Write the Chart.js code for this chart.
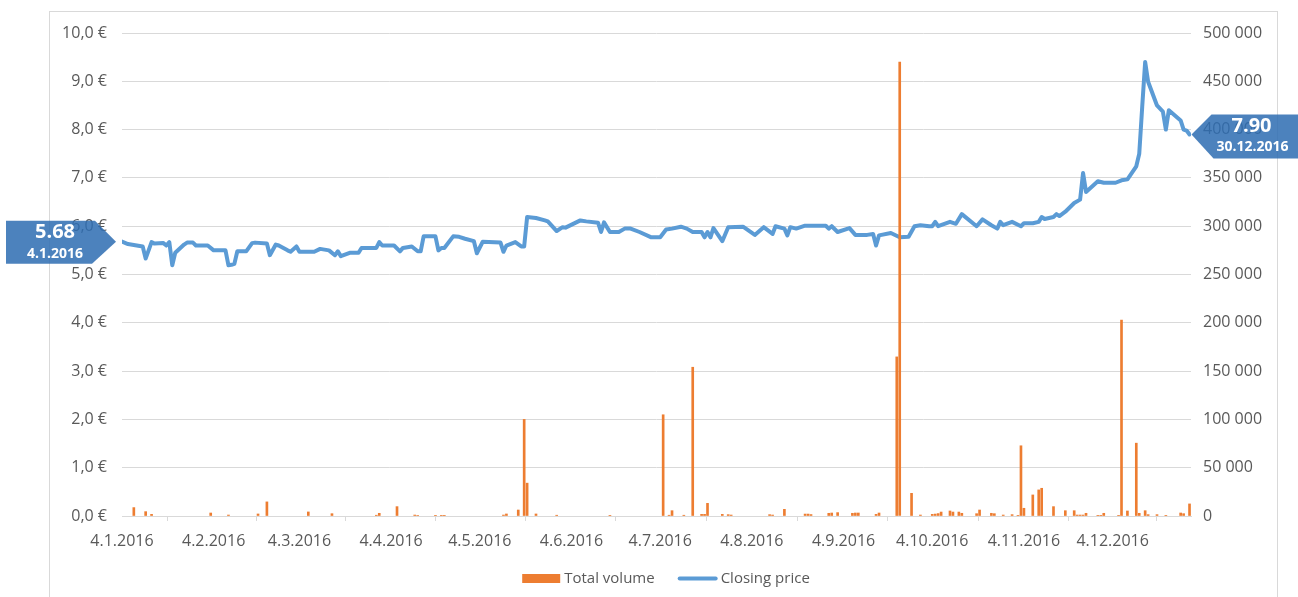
<!DOCTYPE html>
<html>
<head>
<meta charset="utf-8">
<script src="https://cdn.jsdelivr.net/npm/chart.js@4.4.0/dist/chart.umd.min.js"></script>
<style>
  body { margin: 0; background: #fff; }
  #wrap { width: 1298px; height: 597px; }
</style>
</head>
<body>
<div id="wrap"><canvas id="myChart" width="1298" height="597"></canvas></div>
<script>
const YEAR = 2016;

const tickLabels = ['4.1.2016', '4.2.2016', '4.3.2016', '4.4.2016', '4.5.2016', '4.6.2016',
  '4.7.2016', '4.8.2016', '4.9.2016', '4.10.2016', '4.11.2016', '4.12.2016'];

const priceDates = [
  '4.1', '6.1', '11.1', '12.1', '14.1', '15.1', '18.1', '19.1', '20.1', '21.1', '22.1', '25.1', '26.1', '28.1', '29.1',
  '2.2', '4.2', '8.2', '9.2', '10.2', '11.2', '12.2', '15.2', '17.2', '18.2', '22.2', '23.2', '25.2', '26.2', '29.2',
  '1.3', '3.3', '4.3', '9.3', '11.3', '14.3', '16.3', '17.3', '18.3', '21.3', '24.3', '25.3', '30.3', '31.3',
  '1.4', '5.4', '7.4', '8.4', '11.4', '13.4', '14.4', '15.4', '18.4', '19.4', '20.4', '21.4', '22.4', '25.4', '27.4', '29.4',
  '2.5', '3.5', '5.5', '11.5', '12.5', '13.5', '16.5', '18.5', '19.5', '20.5', '23.5', '26.5', '27.5', '30.5',
  '1.6', '2.6', '7.6', '9.6', '13.6', '14.6', '15.6', '17.6', '20.6', '22.6', '24.6', '27.6',
  '1.7', '4.7', '6.7', '8.7', '11.7', '13.7', '15.7', '18.7', '19.7', '20.7', '21.7', '22.7', '25.7', '27.7',
  '1.8', '5.8', '8.8', '11.8', '12.8', '15.8', '16.8', '17.8', '19.8', '22.8', '29.8', '30.8', '31.8',
  '2.9', '6.9', '8.9', '12.9', '14.9', '15.9', '16.9', '20.9', '23.9', '26.9', '28.9', '30.9',
  '3.10', '4.10', '5.10', '6.10', '10.10', '12.10', '14.10', '19.10', '21.10', '24.10', '26.10', '27.10', '28.10', '31.10',
  '3.11', '4.11', '7.11', '9.11', '10.11', '11.11', '14.11', '15.11', '16.11', '18.11', '21.11', '23.11', '24.11', '25.11', '29.11',
  '1.12', '5.12', '7.12', '9.12', '12.12', '13.12', '14.12', '15.12', '16.12', '19.12', '21.12', '22.12', '23.12', '27.12', '28.12', '29.12', '30.12'
];
const closingPrice = [
  5.68, 5.63, 5.58, 5.33, 5.67, 5.64, 5.65, 5.60, 5.67, 5.19, 5.45, 5.62, 5.66, 5.66, 5.60,
  5.60, 5.50, 5.50, 5.19, 5.20, 5.22, 5.48, 5.48, 5.65, 5.66, 5.64, 5.40, 5.62, 5.60, 5.50,
  5.47, 5.58, 5.47, 5.47, 5.53, 5.50, 5.40, 5.48, 5.38, 5.45, 5.45, 5.55, 5.55, 5.67,
  5.60, 5.60, 5.48, 5.55, 5.58, 5.48, 5.48, 5.79, 5.79, 5.79, 5.50, 5.55, 5.55, 5.79, 5.78, 5.74,
  5.69, 5.44, 5.68, 5.66, 5.47, 5.60, 5.67, 5.58, 5.58, 6.19, 6.17, 6.12, 6.10, 5.90,
  5.98, 5.97, 6.12, 6.10, 6.07, 5.88, 6.08, 5.88, 5.88, 5.95, 5.95, 5.88,
  5.77, 5.77, 5.93, 5.95, 5.99, 5.95, 5.88, 5.88, 5.77, 5.88, 5.77, 5.96, 5.69, 5.98,
  5.99, 5.82, 5.98, 5.84, 6.00, 5.95, 5.81, 5.98, 5.95, 6.01, 6.01, 5.95, 6.00,
  5.88, 5.96, 5.82, 5.82, 5.84, 5.60, 5.81, 5.86, 5.77, 5.78, 6.00, 6.02,
  6.00, 6.00, 6.09, 6.00, 6.09, 6.05, 6.25, 6.00, 6.14, 6.02, 5.95, 6.09, 6.02, 6.09,
  6.00, 6.06, 6.06, 6.09, 6.19, 6.15, 6.19, 6.25, 6.21, 6.30, 6.48, 6.55, 7.10, 6.71, 6.93,
  6.90, 6.90, 6.95, 6.97, 7.24, 7.50, 8.47, 9.40, 8.99, 8.50, 8.37, 8.00, 8.40, 8.19, 8.00, 7.98, 7.90
];

const volumeDates = [
  '8.1', '12.1', '14.1', '3.2', '9.2', '19.2', '22.2', '7.3', '15.3', '30.3', '31.3',
  '6.4', '12.4', '13.4', '19.4', '21.4', '22.4', '12.5', '13.5', '17.5', '19.5', '20.5', '23.5', '30.5',
  '17.6', '5.7', '7.7', '8.7', '12.7', '15.7', '18.7', '19.7', '20.7', '25.7', '27.7', '28.7',
  '10.8', '11.8', '15.8', '22.8', '23.8', '24.8', '30.8', '31.8', '2.9', '7.9', '8.9', '9.9',
  '15.9', '16.9', '22.9', '23.9', '27.9', '30.9', '4.10', '5.10', '6.10', '7.10', '10.10', '11.10',
  '13.10', '14.10', '19.10', '20.10', '24.10', '25.10', '28.10', '31.10', '2.11', '3.11', '4.11',
  '7.11', '9.11', '10.11', '14.11', '18.11', '21.11', '22.11', '23.11', '24.11', '25.11', '29.11',
  '30.11', '1.12', '6.12', '7.12', '9.12', '12.12', '13.12', '15.12', '16.12', '19.12', '22.12',
  '27.12', '28.12', '30.12'
];
const totalVolume = [
  8700, 4500, 1700, 3100, 1000, 2100, 14600, 4200, 2400, 800, 2800,
  9700, 1000, 600, 700, 700, 700, 1000, 2100, 6200, 100000, 34000, 2100, 800,
  700, 104800, 800, 5500, 800, 154000, 1700, 1700, 13100, 1700, 1400, 1000,
  1400, 1000, 6900, 2000, 2000, 1500, 2800, 3100, 3500, 2800, 3100, 3100,
  1700, 3100, 164700, 470000, 23500, 1000, 1700, 2000, 2500, 4100, 5200, 4100,
  4100, 2800, 2400, 6200, 2800, 2400, 1000, 1400, 700, 72700, 8000,
  21800, 27000, 28700, 9700, 5500, 5500, 1000, 1000, 1000, 2800, 700,
  700, 2800, 700, 202800, 5200, 75400, 2800, 5500, 1400, 1400, 300,
  3100, 2400, 12500
];

// days since 4.1.2016
const START = Date.UTC(YEAR, 0, 4);
function dayOf(str) {
  const p = str.split('.');
  return (Date.UTC(YEAR, +p[1] - 1, +p[0]) - START) / 864e5;
}
const tickDays = tickLabels.map(dayOf);

const BLUE = '#5B9BD5';
const ORANGE = '#ED7D31';
const GRID = '#d9d9d9';
const TEXT = '#595959';
const CALLOUT = 'rgba(47,109,178,0.86)';

Chart.defaults.font.family = "'Open Sans', sans-serif";
Chart.defaults.font.size = 16;
Chart.defaults.color = TEXT;

function spaced(v) {
  return String(v).replace(/\B(?=(\d{3})+(?!\d))/g, ' ');
}

// outer frame, legend and the two value callouts
const decor = {
  id: 'decor',
  beforeDraw(chart) {
    const ctx = chart.ctx;
    ctx.save();
    ctx.strokeStyle = GRID;
    ctx.lineWidth = 1;
    ctx.strokeRect(49.5, 11.5, 1228, 620);
    ctx.restore();
  },
  afterDraw(chart) {
    const ctx = chart.ctx;
    const xs = chart.scales.x, ys = chart.scales.y;
    const ds = chart.data.datasets;
    ctx.save();

    // legend
    ctx.font = "15px 'Open Sans'";
    ctx.textBaseline = 'middle';
    ctx.textAlign = 'left';
    const w1 = ctx.measureText(ds[0].label).width;
    const w2 = ctx.measureText(ds[1].label).width;
    const total = 38 + 4 + w1 + 23 + 40 + 3 + w2;
    let lx = 666 - total / 2;
    const ly = 578.5;
    ctx.fillStyle = ORANGE;
    ctx.fillRect(lx, ly - 4.5, 38, 9);
    lx += 42;
    ctx.fillStyle = TEXT;
    ctx.fillText(ds[0].label, lx, ly);
    lx += w1 + 23;
    ctx.strokeStyle = BLUE;
    ctx.lineWidth = 4;
    ctx.lineCap = 'round';
    ctx.beginPath();
    ctx.moveTo(lx + 2, ly);
    ctx.lineTo(lx + 38, ly);
    ctx.stroke();
    lx += 43;
    ctx.fillText(ds[1].label, lx, ly);

    // callouts
    const first = 0, last = closingPrice.length - 1;
    ctx.fillStyle = CALLOUT;
    let tx = xs.getPixelForValue(dayOf(priceDates[first])) - 6;
    let ty = ys.getPixelForValue(closingPrice[first]);
    ctx.beginPath();
    ctx.moveTo(tx - 110, ty - 21);
    ctx.lineTo(tx - 21, ty - 21);
    ctx.lineTo(tx, ty);
    ctx.lineTo(tx - 24, ty + 22);
    ctx.lineTo(tx - 110, ty + 22);
    ctx.closePath();
    ctx.fill();
    ctx.fillStyle = '#fff';
    ctx.textAlign = 'center';
    ctx.font = "bold 20px 'Open Sans'";
    ctx.fillText(closingPrice[first].toFixed(2), tx - 61, ty - 9);
    ctx.font = "bold 14px 'Open Sans'";
    ctx.fillText(priceDates[first] + '.' + YEAR, tx - 61, ty + 12);

    ctx.fillStyle = CALLOUT;
    tx = xs.getPixelForValue(dayOf(priceDates[last])) + 2;
    ty = ys.getPixelForValue(closingPrice[last]);
    ctx.beginPath();
    ctx.moveTo(tx, ty);
    ctx.lineTo(tx + 20, ty - 20);
    ctx.lineTo(tx + 110, ty - 20);
    ctx.lineTo(tx + 110, ty + 24);
    ctx.lineTo(tx + 22, ty + 24);
    ctx.closePath();
    ctx.fill();
    ctx.fillStyle = '#fff';
    ctx.font = "bold 20px 'Open Sans'";
    ctx.fillText(closingPrice[last].toFixed(2), tx + 60, ty - 8);
    ctx.font = "bold 14px 'Open Sans'";
    ctx.fillText(priceDates[last] + '.' + YEAR, tx + 61, ty + 13);
    ctx.restore();
  }
};

const ctx = document.getElementById('myChart');
new Chart(ctx, {
  type: 'bar',
  data: {
    datasets: [
      {
        type: 'bar',
        label: 'Total volume',
        data: volumeDates.map((d, i) => ({ x: dayOf(d), y: totalVolume[i] })),
        yAxisID: 'y1',
        backgroundColor: ORANGE,
        borderWidth: 0,
        barThickness: 2,
        order: 0
      },
      {
        type: 'line',
        label: 'Closing price',
        data: priceDates.map((d, i) => ({ x: dayOf(d), y: closingPrice[i] })),
        yAxisID: 'y',
        borderColor: BLUE,
        backgroundColor: BLUE,
        borderWidth: 4,
        borderJoinStyle: 'round',
        borderCapStyle: 'round',
        pointRadius: 0,
        pointHoverRadius: 0,
        tension: 0,
        order: 1
      }
    ]
  },
  options: {
    responsive: false,
    animation: false,
    layout: { padding: { left: 0, right: 0, top: 33, bottom: 36 } },
    plugins: {
      tooltip: { enabled: false },
      legend: { display: false }
    },
    scales: {
      x: {
        type: 'linear',
        min: 0,
        max: 361.5,
        offset: false,
        grid: { drawOnChartArea: false, drawTicks: true, tickLength: 5, color: GRID },
        border: { color: GRID, width: 1 },
        afterBuildTicks: (scale) => { scale.ticks = tickDays.map(v => ({ value: v })); },
        afterFit: (scale) => { scale.height = 45; },
        ticks: {
          autoSkip: false,
          maxRotation: 0,
          padding: 11,
          color: TEXT,
          callback: (v, i) => tickLabels[i]
        }
      },
      y: {
        position: 'left',
        min: 0,
        max: 10,
        grid: { color: GRID, drawTicks: false },
        border: { display: false },
        afterFit: (scale) => { scale.width = 122; },
        ticks: {
          stepSize: 1,
          padding: 15,
          color: TEXT,
          callback: (v) => v.toFixed(1).replace('.', ',') + ' €'
        }
      },
      y1: {
        position: 'right',
        min: 0,
        max: 500000,
        grid: { drawOnChartArea: false, drawTicks: false },
        border: { display: false },
        afterFit: (scale) => { scale.width = 107; },
        ticks: {
          stepSize: 50000,
          padding: 12,
          color: TEXT,
          callback: (v) => spaced(v)
        }
      }
    }
  },
  plugins: [decor]
});
</script>
</body>
</html>
